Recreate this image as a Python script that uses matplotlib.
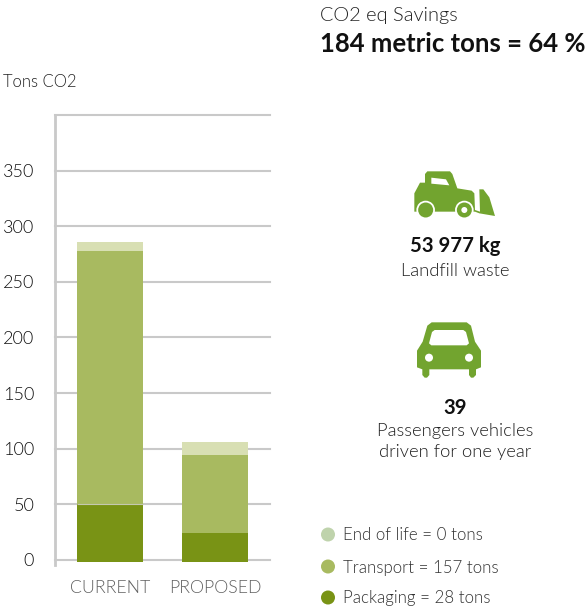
import matplotlib
matplotlib.use("Agg")
import matplotlib.pyplot as plt
from matplotlib.patches import Polygon, Circle
import numpy as np

plt.rcParams['font.family'] = ['Lato', 'DejaVu Sans']
LIGHT = 300

categories = ["CURRENT", "PROPOSED"]
packaging = [50, 24.5]
transport = [228, 70]
end_of_life = [8, 12]
yticks = [0, 50, 100, 150, 200, 250, 300, 350, 400]
yticklabels = ["0", "50", "100", "150", "200", "250", "300", "350", ""]
legend_labels = ["End of life = 0 tons", "Transport = 157 tons", "Packaging = 28 tons"]

C_PACK, C_TRANS, C_END = "#799315", "#A8BA60", "#D8DFB3"
C_ICON = "#72A42F"
GRID = "#C9C9C9"
W, H = 585, 608

fig = plt.figure(figsize=(W / 100, H / 100), dpi=100, facecolor="white")
ax = fig.add_axes([55 / W, 1 - 565 / H, 215 / W, 450 / H])
ax.set_xlim(-0.524, 1.524)
ax.set_ylim(-4.5, 400)

x = np.arange(len(categories))
base = -1.8
pack = np.array(packaging)
trans = np.array(transport)
end = np.array(end_of_life)
bw = 0.629
ax.bar(x, pack - base, bottom=base, width=bw, color=C_PACK, zorder=3)
ax.bar(x, trans, bottom=pack, width=bw, color=C_TRANS, zorder=3)
ax.bar(x, end, bottom=pack + trans, width=bw, color=C_END, zorder=3)
ax.hlines(pack[0], x[0] - bw / 2, x[0] + bw / 2, color="#C4C9B0", lw=0.8, zorder=4)

ax.set_yticks(yticks)
ax.set_yticklabels(yticklabels, fontsize=13, color="#111111", fontweight=LIGHT)
ax.set_xticks(x)
ax.set_xticklabels(categories, fontsize=12.8, color="#606060", fontweight=LIGHT)
ax.get_xticklabels()[1].set_x(0.99)
ax.tick_params(axis="both", length=0)
ax.tick_params(axis="y", pad=15)
ax.tick_params(axis="x", pad=11)
ax.grid(axis="y", color=GRID, lw=1.5, zorder=1, clip_on=False)
ax.set_axisbelow(True)
for s in ["top", "right", "bottom"]:
    ax.spines[s].set_visible(False)
ax.spines["left"].set_color(GRID)
ax.spines["left"].set_linewidth(2)

ov = fig.add_axes([0, 0, 1, 1], zorder=5)
ov.set_xlim(0, W)
ov.set_ylim(H, 0)
ov.axis("off")
ov.patch.set_alpha(0)

ov.text(3, 82, "Tons CO2", fontsize=12, color="#222222", va="center", ha="left", fontweight=LIGHT)
ov.text(320, 15, "CO2 eq Savings", fontsize=14.4, color="#222222", va="center", ha="left", fontweight=LIGHT)
ov.text(320, 44, "184 metric tons = 64 %", fontsize=18.5, fontweight="bold", color="#111111", va="center", ha="left")

ov.text(455, 246, "53 977 kg", fontsize=14.6, fontweight="bold", color="#111111", va="center", ha="center")
ov.text(455, 271, "Landfill waste", fontsize=13.2, color="#222222", va="center", ha="center", fontweight=LIGHT)
ov.text(455, 408, "39", fontsize=14.6, fontweight="bold", color="#111111", va="center", ha="center")
ov.text(455, 431, "Passengers vehicles", fontsize=13.2, color="#222222", va="center", ha="center", fontweight=LIGHT)
ov.text(455, 452, "driven for one year", fontsize=13.2, color="#222222", va="center", ha="center", fontweight=LIGHT)

for y, c, t in zip([535, 567, 598], ["#BFD3AC", C_TRANS, C_PACK], legend_labels):
    ov.add_patch(Circle((328, y - 0.5), 7, color=c, lw=0))
    ov.text(343, y + 0.5, t, fontsize=12.2, color="#333333", va="center", ha="left", fontweight=LIGHT)


def zp(pts):
    return [(370 + a / 3, 160 + b / 3) for a, b in pts]


def zc(cx, cy):
    return (370 + cx / 3, 160 + cy / 3)


body = [(133, 150), (133, 100), (150, 68), (165, 68), (165, 42), (172, 34), (240, 34), (247, 42),
        (262, 85), (305, 92), (313, 100), (315, 150), (330, 155), (328, 88), (340, 88), (358, 112),
        (375, 168), (328, 160), (315, 155), (133, 155)]
ov.add_patch(Polygon(zp(body), closed=True, color=C_ICON, lw=0))
ov.add_patch(Polygon(zp([(184, 53), (228, 58), (238, 76), (184, 71)]), closed=True, color="white", lw=0))
ov.add_patch(Circle(zc(167, 150), 9.3, color="white", lw=0))
ov.add_patch(Circle(zc(167, 150), 7.5, color=C_ICON, lw=0))
ov.add_patch(Circle(zc(283, 150), 9.3, color="white", lw=0))
ov.add_patch(Circle(zc(283, 150), 7.5, color=C_ICON, lw=0))
ov.add_patch(Circle(zc(283, 150), 3, color="white", lw=0))

car = [(185, 487), (290, 487), (303, 497), (315, 545), (333, 572), (333, 622), (318, 628), (318, 645),
       (310, 653), (303, 653), (297, 645), (297, 628), (178, 628), (178, 645), (171, 653), (164, 653),
       (157, 645), (157, 628), (141, 622), (141, 572), (158, 545), (172, 497)]
ov.add_patch(Polygon(zp(car), closed=True, color=C_ICON, lw=0))
ov.add_patch(Polygon(zp([(194, 510), (280, 510), (288, 516), (297, 550), (290, 556), (184, 556), (177, 550), (186, 516)]),
                     closed=True, color="white", lw=0))
ov.add_patch(Circle(zc(177, 593), 4, color="white", lw=0))
ov.add_patch(Circle(zc(297, 593), 4, color="white", lw=0))

fig.savefig("out.png", dpi=100, facecolor="white")
